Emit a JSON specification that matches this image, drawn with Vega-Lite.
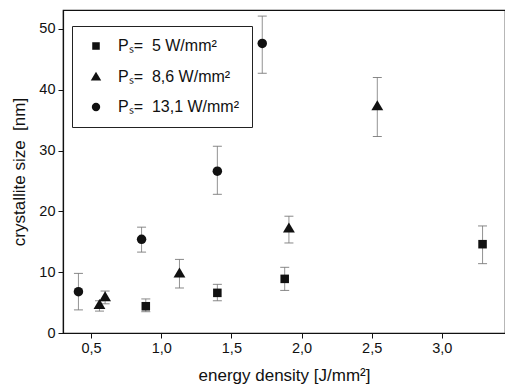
{
  "$schema": "https://vega.github.io/schema/vega-lite/v6.json",
  "width": 442,
  "height": 323,
  "autosize": {"type": "none"},
  "padding": {"left": 63, "top": 10, "right": 0, "bottom": 58},
  "background": "white",
  "config": {
    "view": {"stroke": "#111", "strokeWidth": 1.2},
    "font": "Liberation Sans",
    "axis": {"labelFont": "Liberation Sans", "titleFont": "Liberation Sans", "labelColor": "#111", "titleColor": "#111", "domainColor": "#111", "tickColor": "#111", "grid": false, "titleFontWeight": "normal"}
  },
  "data": {
    "values": [
      {"series": "Pₛ=\u00a0 5 W/mm²", "x": 0.89, "y": 4.4, "lo": 3.5, "hi": 5.6},
      {"series": "Pₛ=\u00a0 5 W/mm²", "x": 1.40, "y": 6.6, "lo": 5.3, "hi": 8.0},
      {"series": "Pₛ=\u00a0 5 W/mm²", "x": 1.88, "y": 8.9, "lo": 7.0, "hi": 10.8},
      {"series": "Pₛ=\u00a0 5 W/mm²", "x": 3.29, "y": 14.6, "lo": 11.4, "hi": 17.6},
      {"series": "Pₛ=\u00a0 8,6 W/mm²", "x": 0.56, "y": 4.6, "lo": 3.6, "hi": 5.3},
      {"series": "Pₛ=\u00a0 8,6 W/mm²", "x": 0.60, "y": 5.9, "lo": 4.8, "hi": 6.9},
      {"series": "Pₛ=\u00a0 8,6 W/mm²", "x": 1.13, "y": 9.8, "lo": 7.4, "hi": 12.1},
      {"series": "Pₛ=\u00a0 8,6 W/mm²", "x": 1.91, "y": 17.2, "lo": 14.8, "hi": 19.2},
      {"series": "Pₛ=\u00a0 8,6 W/mm²", "x": 2.54, "y": 37.3, "lo": 32.3, "hi": 42.0},
      {"series": "Pₛ=\u00a0 13,1 W/mm²", "x": 0.41, "y": 6.8, "lo": 3.8, "hi": 9.8},
      {"series": "Pₛ=\u00a0 13,1 W/mm²", "x": 0.86, "y": 15.4, "lo": 13.3, "hi": 17.4},
      {"series": "Pₛ=\u00a0 13,1 W/mm²", "x": 1.40, "y": 26.6, "lo": 22.8, "hi": 30.7},
      {"series": "Pₛ=\u00a0 13,1 W/mm²", "x": 1.72, "y": 47.6, "lo": 42.7, "hi": 52.1}
    ]
  },
  "layer": [
    {
      "mark": {"type": "errorbar", "ticks": {"size": 9, "color": "#555", "strokeWidth": 1}, "rule": {"color": "#777", "strokeWidth": 0.8}},
      "encoding": {
        "x": {"field": "x", "type": "quantitative", "title": "energy density [J/mm²]"},
        "y": {"field": "lo", "type": "quantitative", "title": "crystallite size\u00a0 [nm]"},
        "y2": {"field": "hi"}
      }
    },
    {
      "mark": {"type": "point", "filled": true, "opacity": 1, "color": "#111", "size": 90},
      "encoding": {
        "x": {
          "field": "x", "type": "quantitative",
          "scale": {"domain": [0.3, 3.45], "nice": false, "zero": false},
          "axis": {"values": [0.5, 1.0, 1.5, 2.0, 2.5, 3.0], "labelExpr": "replace(format(datum.value, '.1f'), '.', ',')", "title": "energy density [J/mm²]", "titleFontSize": 17, "labelFontSize": 14.5, "tickSize": 5, "labelPadding": 3, "titlePadding": 13, "domainWidth": 1.2}
        },
        "y": {
          "field": "y", "type": "quantitative",
          "scale": {"domain": [0, 53.1], "nice": false},
          "axis": {"values": [0, 10, 20, 30, 40, 50], "title": "crystallite size\u00a0 [nm]", "titleFontSize": 17, "labelFontSize": 14.5, "tickSize": 5, "labelPadding": 3, "titlePadding": 10, "domainWidth": 1.2}
        },
        "shape": {
          "field": "series", "type": "nominal",
          "sort": ["Pₛ=\u00a0 5 W/mm²", "Pₛ=\u00a0 8,6 W/mm²", "Pₛ=\u00a0 13,1 W/mm²"],
          "scale": {"domain": ["Pₛ=\u00a0 5 W/mm²", "Pₛ=\u00a0 8,6 W/mm²", "Pₛ=\u00a0 13,1 W/mm²"], "range": ["M-0.9,-0.9H0.9V0.9H-0.9Z", "M0,-1.25L1.25,0.85L-1.25,0.85Z", "circle"]},
          "legend": {
            "title": null, "orient": "none", "legendX": 9, "legendY": 16,
            "strokeColor": "#222", "padding": 12, "fillColor": "white",
            "labelFontSize": 16, "labelColor": "#111", "labelFont": "Liberation Sans",
            "symbolSize": 70, "symbolFillColor": "#111", "symbolStrokeColor": "#111",
            "rowPadding": 14, "labelOffset": 14, "symbolOffset": 4
          }
        }
      }
    }
  ]
}
